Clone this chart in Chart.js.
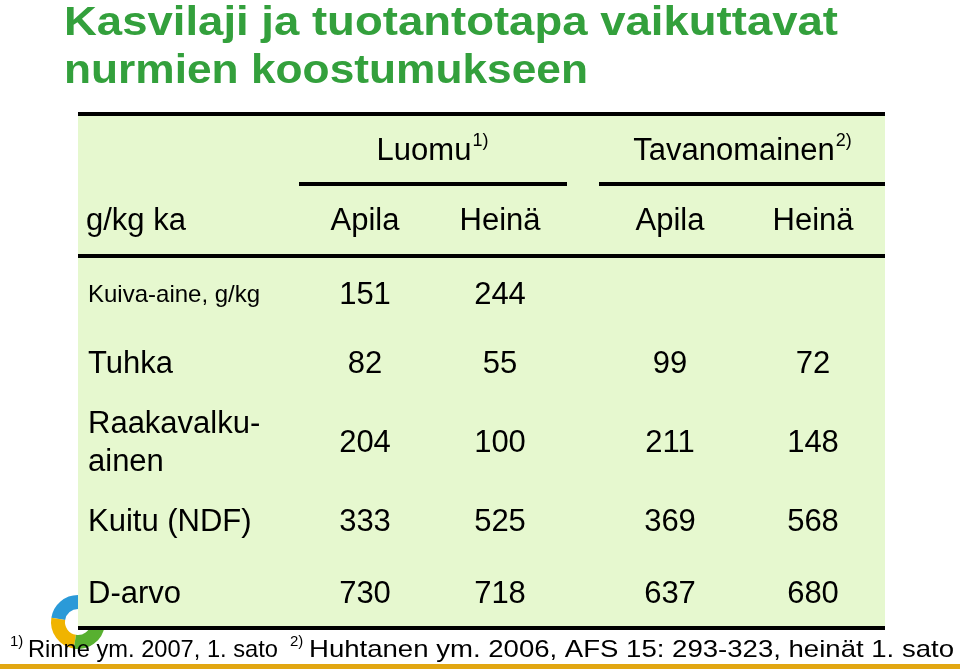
<!DOCTYPE html>
<html><head><meta charset="utf-8">
<script src="https://cdn.jsdelivr.net/npm/chart.js@4"></script>
<style>html,body{margin:0;padding:0;background:#fff}#w{position:relative;width:960px;height:671px}</style>
</head><body><div id="w"><canvas id="c" width="960" height="671"></canvas></div>
<script>
const rowLabels = ["Kuiva-aine, g/kg", "Tuhka", "Raakavalku-\nainen", "Kuitu (NDF)", "D-arvo"];
const columns = ["Apila", "Heinä", "Apila", "Heinä"];
const groups = ["Luomu", "Tavanomainen"];
const luomuApila = [151, 82, 204, 333, 730];
const luomuHeina = [244, 55, 100, 525, 718];
const tavApila = [null, 99, 211, 369, 637];
const tavHeina = [null, 72, 148, 568, 680];
const series = [luomuApila, luomuHeina, tavApila, tavHeina];

// layout (pixel scale)
const colX = [365, 500, 670, 813];
const rowY = [295, 364, 443, 522, 594];
const FONT = '"Liberation Sans", Arial, sans-serif';
const BODY = '31px ' + FONT;

const datasets = series.map((vals, ci) => ({
  label: columns[ci],
  data: vals.map((v, ri) => ({x: colX[ci], y: rowY[ri], v})).filter(d => d.v != null),
  pointRadius: 0, showLine: false
}));

const tablePlugin = {
  id: 'table',
  beforeDatasetsDraw(chart) {
    const c = chart.ctx, xs = chart.scales.x, ys = chart.scales.y;
    const X = v => xs.getPixelForValue(v), Y = v => ys.getPixelForValue(v);
    c.save();
    const stretch = (t, x, y, wTarget) => {
      const w = c.measureText(t).width;
      c.save(); c.translate(x, y); c.scale(wTarget / w, 1); c.fillText(t, 0, 0); c.restore();
    };
    // title
    c.fillStyle = '#33a03c';
    c.font = 'bold 40px ' + FONT;
    c.textBaseline = 'alphabetic';
    stretch('Kasvilaji ja tuotantotapa vaikuttavat', X(64), Y(35), 774);
    stretch('nurmien koostumukseen', X(64), Y(83), 524);
    // logo
    c.lineWidth = 14;
    const lx = X(78), ly = Y(622);
    [['#2a9ad8', Math.PI*1.05, Math.PI*1.5], ['#f0b400', Math.PI*0.55, Math.PI*1.05], ['#58b030', Math.PI*0.05, Math.PI*0.55]].forEach(a => {
      c.strokeStyle = a[0]; c.beginPath(); c.arc(lx, ly, 20, a[1], a[2]); c.stroke();
    });
    // box
    c.fillStyle = '#e6f8cf';
    c.fillRect(X(78), Y(113), X(885) - X(78), Y(628) - Y(113));
    c.fillStyle = '#000';
    c.fillRect(X(78), Y(112), X(885) - X(78), 4);
    c.fillRect(X(299), Y(182), X(567) - X(299), 4);
    c.fillRect(X(599), Y(182), X(885) - X(599), 4);
    c.fillRect(X(78), Y(254), X(885) - X(78), 4);
    c.fillRect(X(78), Y(626), X(885) - X(78), 4);
    // orange line
    c.fillStyle = '#e2a712';
    c.fillRect(0, Y(664), 960, 5);
    // headers
    c.fillStyle = '#000';
    c.textAlign = 'center'; c.textBaseline = 'middle';
    const sup = (txt, s, cx, cy) => {
      c.font = BODY;
      const w1 = c.measureText(txt).width;
      c.font = '18px ' + FONT;
      const w2 = c.measureText(s).width;
      const x0 = cx - (w1 + w2) / 2;
      c.textAlign = 'left';
      c.font = BODY; c.fillText(txt, x0, cy);
      c.font = '18px ' + FONT; c.fillText(s, x0 + w1 + 1, cy - 10);
      c.textAlign = 'center';
    };
    sup(groups[0], '1)', X(432), Y(151));
    sup(groups[1], '2)', X(742), Y(151));
    c.font = BODY;
    columns.forEach((t, i) => c.fillText(t, X(colX[i]), Y(221)));
    c.textAlign = 'left';
    c.fillText('g/kg ka', X(86), Y(221));
    rowLabels.forEach((t, i) => {
      c.font = (i === 0 ? '24px ' + FONT : BODY);
      const lines = t.split('\n');
      lines.forEach((l, k) => c.fillText(l, X(88), Y(rowY[i]) + (k - (lines.length - 1) / 2) * 38));
    });
    // footnote
    c.textBaseline = 'alphabetic';
    c.font = '15px ' + FONT; c.fillText('1)', X(10), Y(646));
    c.font = '24px ' + FONT; stretch('Rinne ym. 2007, 1. sato', X(28), Y(657), 250);
    c.font = '15px ' + FONT; c.fillText('2)', X(290), Y(646));
    c.font = '24px ' + FONT; stretch('Huhtanen ym. 2006, AFS 15: 293-323, heinät 1. sato', X(309), Y(657), 645);
    c.restore();
  },
  afterDatasetsDraw(chart) {
    const c = chart.ctx;
    c.save();
    c.fillStyle = '#000'; c.font = BODY;
    c.textAlign = 'center'; c.textBaseline = 'middle';
    chart.data.datasets.forEach((ds, di) => {
      chart.getDatasetMeta(di).data.forEach((el, i) => {
        const d = ds.data[i];
        if (d && el && !isNaN(el.x)) c.fillText(String(d.v), el.x, el.y);
      });
    });
    c.restore();
  }
};

new Chart(document.getElementById('c'), {
  type: 'scatter',
  data: {datasets},
  options: {
    responsive: false, animation: false, events: [],
    layout: {padding: 0},
    plugins: {legend: {display: false}, tooltip: {enabled: false}},
    scales: {
      x: {type: 'linear', min: 0, max: 960, display: false},
      y: {type: 'linear', min: 0, max: 671, reverse: true, display: false}
    }
  },
  plugins: [tablePlugin]
});
</script></body></html>
